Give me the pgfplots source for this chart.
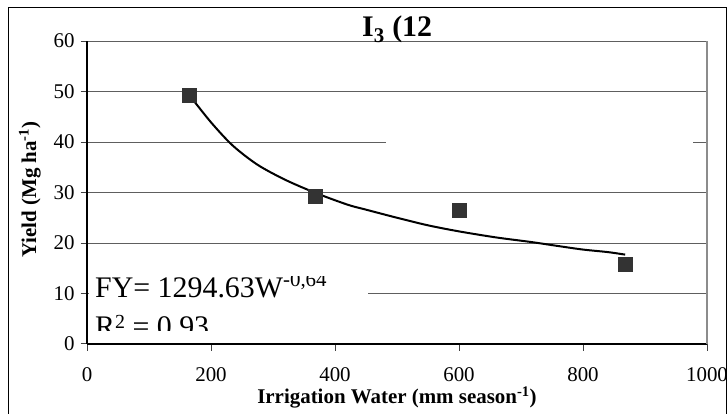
\documentclass[border=0pt]{standalone}
\usepackage{fontspec}
\setmainfont{Liberation Serif}
\usepackage{pgfplots}
\pgfplotsset{compat=1.18}
\definecolor{gridgray}{HTML}{5E5E5E}
\definecolor{markgray}{HTML}{333333}
\definecolor{framegray}{HTML}{8C8C8C}

\begin{document}
\begin{tikzpicture}
\useasboundingbox (0,0) rectangle (728bp,414bp);
\begin{axis}[
  at={(87bp,70bp)}, anchor=south west,
  scale only axis, width=620bp, height=303bp,
  xmin=0, xmax=1000, ymin=0, ymax=60,
  xtick={0,200,...,1000}, ytick={0,10,...,60},
  axis lines*=left,
  axis line style={black, line width=1.1bp},
  tick align=outside, major tick length=6.5bp,
  tick style={black!75, line width=1bp},
  ymajorgrids, grid style={gridgray, line width=1bp},
  tick label style={font=\fontsize{21}{22}\selectfont},
  /pgf/number format/assume math mode=true,
  /pgf/number format/1000 sep={},
  xticklabel style={yshift=-16bp, inner sep=1bp},
  yticklabel style={xshift=-2.5bp},
  label style={font=\bfseries\fontsize{21}{22}\selectfont},
  xlabel={Irrigation Water (mm season\textsuperscript{-1})},
  ylabel={Yield (Mg ha\textsuperscript{-1})},
  xlabel style={at={(axis description cs:0.5,-0.198)}, anchor=base, inner sep=1bp},
  ylabel style={at={(axis description cs:-0.092,0.51)}, anchor=center},
  clip=false,
]
% plot area frame on the right, gap in the 40 gridline
\draw[framegray, line width=1.2bp] (axis cs:1000,0) -- (axis cs:1000,60);
\fill[white] (axis cs:482,38.8) rectangle (axis cs:977,41.2);

% measured yields
\addplot[only marks, mark=square*, mark size=7bp,
  mark options={fill=markgray, draw=markgray}] coordinates {
  (165,49.3) (368,29.2) (601,26.5) (868,15.8)
};
% power trend line FY = 1294.63 W^-0.64
\addplot[black, line width=2bp, smooth, no markers] coordinates {
  (165,49.3) (200,43.9) (235,39.3) (275,35.5) (320,32.5) (369,29.9)
  (420,27.6) (447,26.7) (500,25.0) (550,23.5) (600,22.3) (660,21.1)
  (716,20.2) (760,19.4) (800,18.7) (840,18.2) (868,17.7)
};
\end{axis}

\begin{scope}[x=1bp, y=-1bp, shift={(0bp,414bp)}]
  \draw[black, line width=1.2bp] (8.5,420) -- (8.5,7.5) -- (726.5,7.5) -- (726.5,420);
  \fill[white] (88.5,277) rectangle (368,331);
  \begin{scope}
    \clip (88.5,277) rectangle (368,331);
    \node[anchor=base west, inner sep=0, font=\fontsize{30}{30}\selectfont] at (95,298)
      {FY= 1294.63W\raisebox{11.5bp}{\fontsize{21}{21}\selectfont -0,64}};
    \node[anchor=base west, inner sep=0, font=\fontsize{30}{30}\selectfont] at (95,337)
      {R\raisebox{8.5bp}{\fontsize{20}{20}\selectfont 2} = 0.93};
  \end{scope}
  \node[anchor=base west, inner sep=0, font=\bfseries\fontsize{30}{30}\selectfont] at (362,37)
    {I\textsubscript{3} (12};
\end{scope}
\end{tikzpicture}
\end{document}
